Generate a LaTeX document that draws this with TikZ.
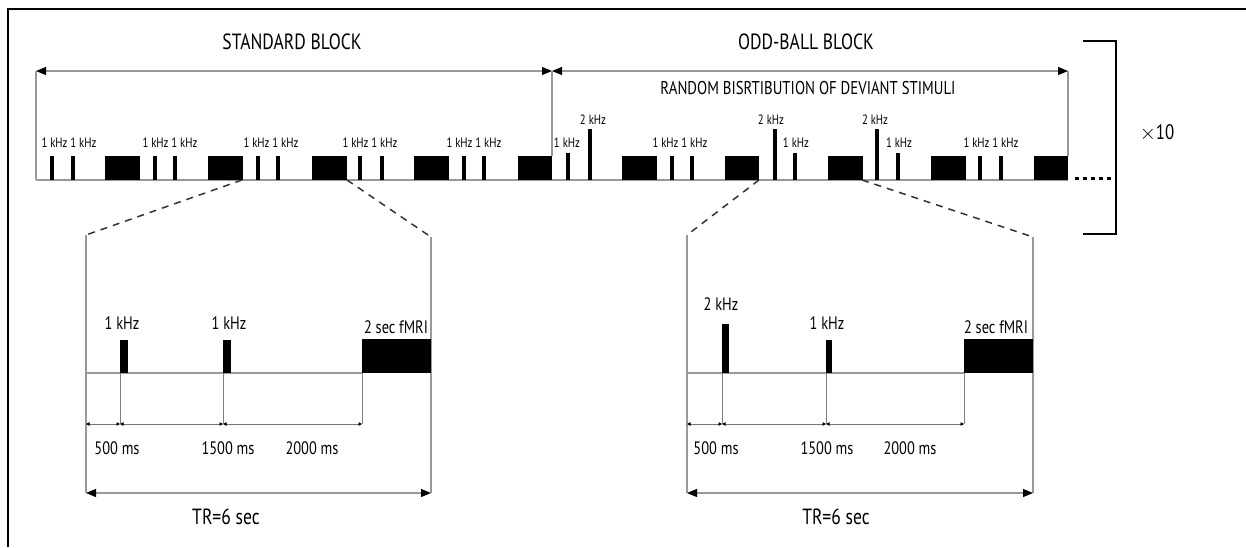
\documentclass[tikz,border=0pt]{standalone}
\usepackage{fontspec}
\setmainfont{PT Sans}[FakeStretch=0.8]
\usetikzlibrary{arrows.meta}
\newcommand\fs[1]{\fontsize{#1}{#1}\selectfont}
\tikzset{
  lbl/.style={inner sep=0pt, font=\fs{13.5}},
  plbl/.style={inner sep=0pt, font=\fs{18}},
  ttl/.style={inner sep=0pt, font=\fs{22}},
  guide/.style={draw=gray!80, line width=1.1pt},
  bigarr/.style={guide, {Triangle[length=10pt,width=8pt,black]}-{Triangle[length=10pt,width=8pt,black]}},
  smallarr/.style={draw=gray!90!black, line width=0.8pt, {Triangle[length=3.5pt,width=3.5pt,black]}-{Triangle[length=3.5pt,width=3.5pt,black]}},
  zoomline/.style={draw=black!80, line width=1.5pt, dash pattern=on 7pt off 6pt},
}
\newcommand\stim[2]{\fill (#1-2,180) rectangle (#1+2,#2);}
\newcommand\blk[1]{\fill (#1,180) rectangle (#1+34.5,156);}
\begin{document}
\begin{tikzpicture}[x=1pt,y=-1pt]
\useasboundingbox (0,0) rectangle (1246,547);
% frame
\draw[line width=1.2pt] (8,547) -- (8,9) -- (1246,9);
% titles
\node[ttl] (tstd) at (292,42) {STANDARD BLOCK};
\node[ttl] (todd) at (806,42) {ODD-BALL BLOCK};
\node[inner sep=0pt, font=\fs{18.5}] (trand) at (808,88) {RANDOM BISRTIBUTION OF DEVIANT STIMULI};
% block arrows
\coordinate (a0) at (36,71);
\coordinate (a1) at (552,71);
\coordinate (a2) at (1068,71);
\draw[bigarr] (a0) -- (a1);
\draw[bigarr] (a1) -- (a2);
\draw[guide] (a0) -- (36,180);
\draw[guide] (a1) -- (552,156);
\draw[guide] (a2) -- (1068,156);
% baseline
\draw[guide] (36,180) -- (1068,180);
\draw[line width=3pt, dash pattern=on 4pt off 4pt] (1075,178) -- (1112,178);
% standard block stimuli
\stim{52}{156}\stim{73}{156}\blk{105}
\stim{155}{156}\stim{175}{156}\blk{208}
\stim{258}{156}\stim{278}{156}\blk{312}
\stim{360}{156}\stim{382}{156}\blk{414}
\stim{464}{156}\stim{484}{156}\blk{517.5}
% odd-ball block stimuli
\stim{568}{153}\stim{590}{129}\blk{622}
\stim{672}{156}\stim{692}{156}\blk{724.5}
\stim{775}{129}\stim{795}{153}\blk{828}
\stim{877}{129}\stim{898}{153}\blk{931}
\stim{980}{156}\stim{1001}{156}\blk{1033.5}
% labels top
\node[lbl] (l1) at (69,143) {1 kHz 1 kHz};
\node[lbl] (l2) at (170,143) {1 kHz 1 kHz};
\node[lbl] (l3) at (271,143) {1 kHz 1 kHz};
\node[lbl] (l4) at (370,143) {1 kHz 1 kHz};
\node[lbl] (l5) at (474,143) {1 kHz 1 kHz};
\node[lbl] (o1) at (567,143) {1 kHz};
\node[lbl] (o2) at (593,120) {2 kHz};
\node[lbl] (o3) at (680,143) {1 kHz 1 kHz};
\node[lbl] (o4) at (771,120) {2 kHz};
\node[lbl] (o5) at (796,143) {1 kHz};
\node[lbl] (o6) at (875,120) {2 kHz};
\node[lbl] (o7) at (899,143) {1 kHz};
\node[lbl] (o8) at (991,143) {1 kHz 1 kHz};
% repeat bracket
\draw[line width=1.8pt] (1083,41) -- (1116,41) -- (1116,234) -- (1083,234);
\node[inner sep=0pt, font=\fs{21}] (x10) at (1157,133) {$\times$10};
% ===== left zoom panel =====
\draw[zoomline] (242,180) -- (86,235);
\draw[zoomline] (347,180) -- (431,237);
\draw[guide] (86,235) -- (86,493);
\draw[guide] (431,237) -- (431,493);
\draw[guide] (86,373) -- (362,373);
\fill (120,373) rectangle (128,340);
\fill (223,373) rectangle (231,340);
\fill (362,373) rectangle (431,339);
\draw[guide, draw=gray, line width=0.8pt] (120,373) -- (120,424);
\draw[guide, draw=gray, line width=0.8pt] (223,373) -- (223,424);
\draw[guide, draw=gray, line width=0.8pt] (362,373) -- (362,424);
\coordinate (L0) at (86,424); \coordinate (L1) at (120,424);
\coordinate (L2) at (223,424); \coordinate (L3) at (362,424);
\draw[smallarr] (L0) -- (L1);
\draw[smallarr] (L1) -- (L2);
\draw[smallarr] (L2) -- (L3);
\node[plbl] (pl1) at (122,323) {1 kHz};
\node[plbl] (pl2) at (229,323) {1 kHz};
\node[plbl] (pl3) at (396,327) {2 sec fMRI};
\node[plbl] (pm1) at (117,448) {500 ms};
\node[plbl] (pm2) at (228,448) {1500 ms};
\node[plbl] (pm3) at (312,448) {2000 ms};
\coordinate (LT0) at (86,493); \coordinate (LT1) at (431,493);
\draw[bigarr] (LT0) -- (LT1);
\node[inner sep=0pt, font=\fs{22}] (ptr) at (226,517) {TR=6 sec};
% ===== right zoom panel =====
\draw[zoomline] (759,180) -- (687,235);
\draw[zoomline] (862,180) -- (1033,237);
\draw[guide] (687,235) -- (687,493);
\draw[guide] (1033,237) -- (1033,493);
\draw[guide] (687,373) -- (964,373);
\fill (722,373) rectangle (729,324);
\fill (826,373) rectangle (832,340);
\fill (964,373) rectangle (1033,339);
\draw[guide, draw=gray, line width=0.8pt] (722,373) -- (722,424);
\draw[guide, draw=gray, line width=0.8pt] (826,373) -- (826,424);
\draw[guide, draw=gray, line width=0.8pt] (964,373) -- (964,424);
\coordinate (R0) at (687,424); \coordinate (R1) at (722,424);
\coordinate (R2) at (826,424); \coordinate (R3) at (964,424);
\draw[smallarr] (R0) -- (R1);
\draw[smallarr] (R1) -- (R2);
\draw[smallarr] (R2) -- (R3);
\node[plbl] (pr1) at (721,304) {2 kHz};
\node[plbl] (pr2) at (827,323) {1 kHz};
\node[plbl] (pr3) at (996,327) {2 sec fMRI};
\node[plbl] (pn1) at (716,448) {500 ms};
\node[plbl] (pn2) at (827,448) {1500 ms};
\node[plbl] (pn3) at (910,448) {2000 ms};
\coordinate (RT0) at (687,493); \coordinate (RT1) at (1033,493);
\draw[bigarr] (RT0) -- (RT1);
\node[inner sep=0pt, font=\fs{22}] (qtr) at (836,517) {TR=6 sec};
\end{tikzpicture}
\end{document}
